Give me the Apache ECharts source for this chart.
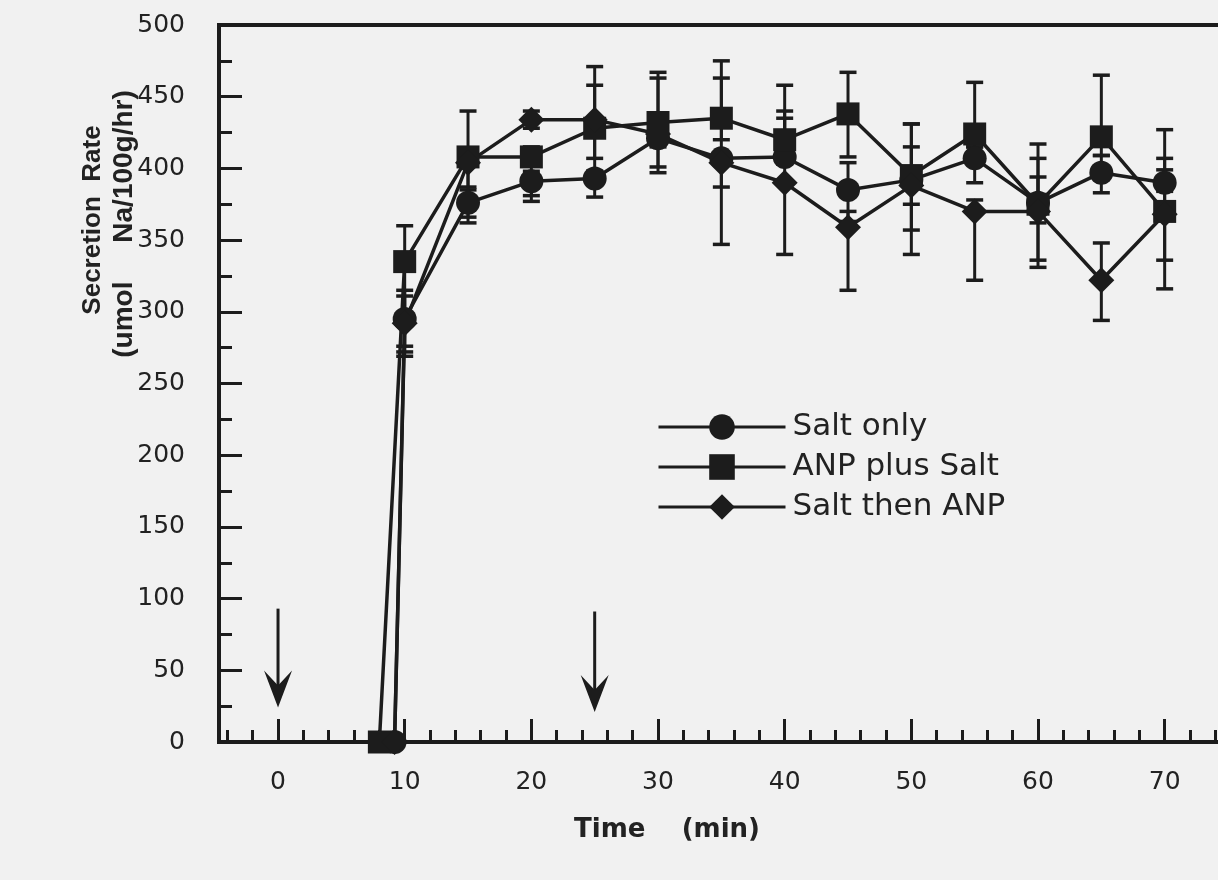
<!DOCTYPE html>
<html><head><meta charset="utf-8">
<script src="https://cdn.jsdelivr.net/npm/echarts@6/dist/echarts.min.js"></script>
<style>html,body{margin:0;padding:0;background:#f1f1f1;} #c{width:1218px;height:880px;}</style>
</head><body><div id="c"></div>
<script>
// ---- data ----
const seriesNames = ['Salt only', 'ANP plus Salt', 'Salt then ANP'];
const sampleTimes = [10, 15, 20, 25, 30, 35, 40, 45, 50, 55, 60, 65, 70];
const baselineTimes = [9.2, 8, 9.2];   // time of the zero reading for each series
const baselineValue = 0;
const saltOnly     = [295, 376, 391, 393, 421, 407, 408, 385, 392, 407, 376, 397, 390];
const anpPlusSalt  = [335, 408, 408, 428, 432, 435, 420, 438, 395, 424, 375, 422, 370];
const saltThenAnp  = [292, 404, 434, 434, 424, 404, 390, 359, 388, 370, 370, 322, 368];
const saltOnlyLow     = [276, 362, 377, 380, 415, 347, 403, 363, 375, 390, 331, 383, 384];
const saltOnlyHigh    = [315, 385, 398, 398, 428, 463, 440, 404, 431, 415, 407, 409, 427];
const anpPlusSaltLow  = [272, 387, 381, 407, 397, 420, 413, 408, 357, 415, 336, 409, 336];
const anpPlusSaltHigh = [360, 440, 415, 458, 467, 475, 458, 467, 431, 460, 417, 465, 399];
const saltThenAnpLow  = [269, 366, 428, 398, 401, 387, 340, 315, 340, 322, 362, 294, 316];
const saltThenAnpHigh = [311, 410, 440, 471, 463, 410, 435, 370, 415, 378, 394, 348, 407];
const xTickValues = [0, 10, 20, 30, 40, 50, 60, 70];
const xMinorTickValues = [-4, -2, 2, 4, 6, 8, 12, 14, 16, 18, 22, 24, 26, 28, 32, 34, 36, 38, 42, 44, 46, 48, 52, 54, 56, 58, 62, 64, 66, 68, 72, 74];
const arrowTimes = [0, 25];
const arrowTops  = [93, 91];
const arrowTips  = [24, 21];

// ---- styling ----
const ink = '#1c1c1c';
const chart = echarts.init(document.getElementById('c'), null, {renderer: 'canvas'});

function lineSeries(k, values, symbol, size) {
  const data = [[baselineTimes[k], baselineValue]].concat(sampleTimes.map((t, i) => [t, values[i]]));
  return {
    type: 'line', name: seriesNames[k], data: data, symbol: symbol, symbolSize: size,
    lineStyle: {color: ink, width: 3.5}, itemStyle: {color: ink, borderWidth: 0},
    z: 3, animation: false, clip: false
  };
}
function errorSeries(lows, highs) {
  return {
    type: 'custom', silent: true, z: 2, animation: false,
    data: sampleTimes.map((t, i) => [t, lows[i], highs[i]]),
    encode: {x: 0, y: [1, 2]},
    renderItem: function (params, api) {
      const t = api.value(0);
      const lo = api.coord([t, api.value(1)]);
      const hi = api.coord([t, api.value(2)]);
      const w = 8.5;
      return {type: 'group', children: [
        {type: 'line', shape: {x1: lo[0], y1: lo[1], x2: hi[0], y2: hi[1]}, style: {stroke: ink, lineWidth: 3}},
        {type: 'line', shape: {x1: lo[0] - w, y1: lo[1], x2: lo[0] + w, y2: lo[1]}, style: {stroke: ink, lineWidth: 3.5}},
        {type: 'line', shape: {x1: hi[0] - w, y1: hi[1], x2: hi[0] + w, y2: hi[1]}, style: {stroke: ink, lineWidth: 3.5}}
      ]};
    }
  };
}

const tickFont = {fontFamily: 'DejaVu Sans', fontSize: 25, color: '#222'};

chart.setOption({
  backgroundColor: '#f1f1f1',
  animation: false,
  grid: {left: 219, top: 25, width: 1009, height: 717, show: true, borderColor: ink, borderWidth: 4,
         backgroundColor: 'transparent', containLabel: false, outerBoundsMode: 'none'},
  xAxis: [{
    type: 'value', min: -4.66, max: 75, position: 'bottom',
    axisLine: {show: false, onZero: false}, splitLine: {show: false},
    axisTick: {show: true, inside: true, length: 23, customValues: xTickValues, lineStyle: {color: ink, width: 3}},
    axisLabel: Object.assign({margin: 28, customValues: xTickValues, showMinLabel: true, showMaxLabel: true}, tickFont)
  }, {
    type: 'value', min: -4.66, max: 75, position: 'bottom', gridIndex: 0,
    axisLine: {show: false, onZero: false}, splitLine: {show: false}, axisLabel: {show: false},
    axisTick: {show: true, inside: true, length: 12, customValues: xMinorTickValues, lineStyle: {color: ink, width: 3}}
  }],
  yAxis: {
    type: 'value', min: 0, max: 500, interval: 50, position: 'left',
    axisLine: {show: false, onZero: false}, splitLine: {show: false},
    axisTick: {show: true, inside: true, length: 23, lineStyle: {color: ink, width: 3}},
    minorTick: {show: true, splitNumber: 2, length: 13, lineStyle: {color: ink, width: 3}},
    axisLabel: Object.assign({margin: 34}, tickFont)
  },
  legend: {
    data: seriesNames, orient: 'vertical', left: 652, top: 406,
    itemWidth: 127, itemHeight: 32, itemGap: 8,
    lineStyle: {width: 3, color: ink},
    textStyle: {fontFamily: 'DejaVu Sans', fontSize: 31, color: '#222', lineHeight: 32, padding: [0, 0, 0, 2]}
  },
  graphic: [
    {type: 'text', x: 93, y: 220, rotation: Math.PI / 2,
     style: {text: 'Secretion  Rate', fontFamily: '"Liberation Sans"', fontWeight: 'bold', fontSize: 26, fill: '#222', align: 'center', verticalAlign: 'middle'}},
    {type: 'text', x: 124, y: 224, rotation: Math.PI / 2,
     style: {text: '(umol     Na/100g/hr)', fontFamily: '"Liberation Sans"', fontWeight: 'bold', fontSize: 28, fill: '#222', align: 'center', verticalAlign: 'middle'}},
    {type: 'text', x: 667, y: 830,
     style: {text: 'Time    (min)', fontFamily: 'DejaVu Sans', fontWeight: 'bold', fontSize: 26, fill: '#222', align: 'center', verticalAlign: 'middle'}}
  ],
  series: [
    errorSeries(saltOnlyLow, saltOnlyHigh),
    errorSeries(anpPlusSaltLow, anpPlusSaltHigh),
    errorSeries(saltThenAnpLow, saltThenAnpHigh),
    lineSeries(0, saltOnly, 'circle', 24),
    lineSeries(1, anpPlusSalt, 'rect', 23),
    lineSeries(2, saltThenAnp, 'diamond', 26),
    {
      type: 'custom', silent: true, z: 2, animation: false,
      data: arrowTimes.map((t, i) => [t, arrowTops[i], arrowTips[i]]),
      encode: {x: 0, y: [1, 2]},
      renderItem: function (params, api) {
        const top = api.coord([api.value(0), api.value(1)]);
        const tip = api.coord([api.value(0), api.value(2)]);
        return {type: 'group', children: [
          {type: 'line', shape: {x1: top[0], y1: top[1], x2: tip[0], y2: tip[1] - 20}, style: {stroke: ink, lineWidth: 3}},
          {type: 'polygon', shape: {points: [[tip[0], tip[1]], [tip[0] - 14, tip[1] - 37], [tip[0], tip[1] - 22], [tip[0] + 14, tip[1] - 37]]}, style: {fill: ink}}
        ]};
      }
    }
  ]
});
</script>
</body></html>
